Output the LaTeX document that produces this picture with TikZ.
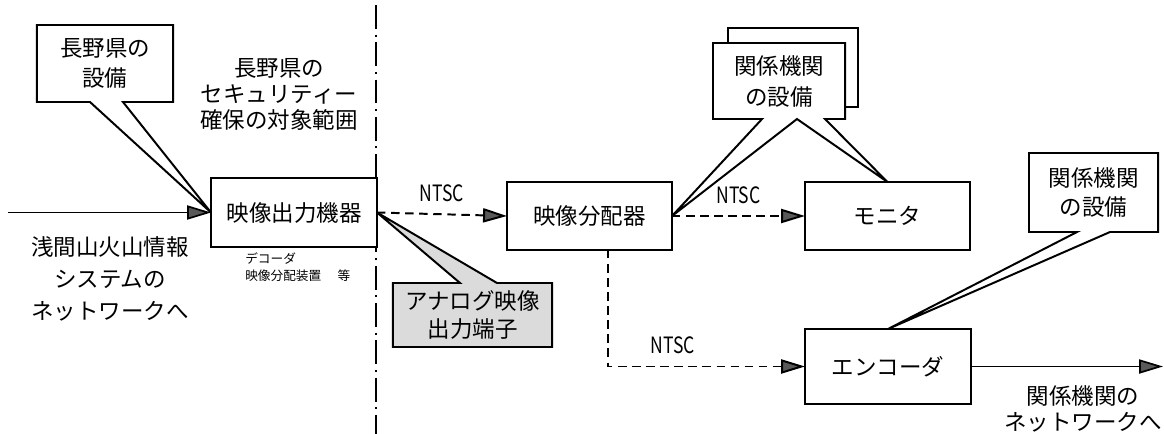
\documentclass[tikz,border=0pt]{standalone}
\usepackage{fontspec}
\setmainfont{Noto Sans CJK JP}
\usetikzlibrary{arrows.meta,calc}
\begin{document}
\begin{tikzpicture}[x=0.025cm,y=-0.025cm,
  box/.style={draw,line width=1.4pt,inner sep=0pt,outer sep=0pt,fill=white,font=\fontsize{16pt}{20pt}\selectfont},
  holder/.style={inner sep=0pt,outer sep=0pt},
  bubline/.style={draw,line width=1.4pt,fill=white,line join=miter},
  lab/.style={inner sep=0pt,align=center,font=\fontsize{16pt}{#1}\selectfont},
  lab/.default=21pt,
  small/.style={inner sep=0pt,align=left,font=\fontsize{9pt}{12.5pt}\selectfont},
  ntsc/.style={inner sep=0pt,font=\fontsize{16pt}{18pt}\selectfont},
  tip/.style={-{Triangle[length=17pt,width=10pt,fill=black!65]}},
  solidarrow/.style={tip,line width=1.2pt},
  dasharrow/.style={tip,line width=1.4pt,dash pattern=on 6pt off 4pt},
]
\useasboundingbox (0,0) rectangle (1164,434);

% boundary line (dash-dot)
\coordinate (btop) at (376,5);
\coordinate (bbot) at (376,434);
\draw[line width=1.5pt,dash pattern=on 17pt off 4pt on 1.5pt off 4pt] (btop) -- (bbot);

% main boxes
\node[box,minimum width=4.15cm,minimum height=1.725cm] (out1) at (294,212.5) {映像出力機器};
\node[box,minimum width=4.125cm,minimum height=1.7cm] (dist) at (589.5,216) {映像分配器};
\node[box,minimum width=4.125cm,minimum height=1.7cm] (mon) at (887.5,216) {モニタ};
\node[box,minimum width=4.15cm,minimum height=1.875cm] (enc) at (888,366.5) {エンコーダ};

% input arrow
\coordinate (in) at (8,212.5);
\draw[solidarrow] (in) -- (out1.west);

% output arrow
\coordinate (outend) at (1163,366.5);
\draw[solidarrow] (enc.east) -- (outend);

% NTSC arrows
\draw[dasharrow] (out1.east) -- (dist.west) node[ntsc,midway,above=8pt] (n1) {\scalebox{0.78}[1]{NTSC}};
\draw[dasharrow] (dist.east) -- (mon.west) node[ntsc,midway,above=8pt] (n2) {\scalebox{0.78}[1]{NTSC}};
\draw[dasharrow] ($(dist.south)+(18.5,0)$) |- (enc.west) node[ntsc,pos=0.665,above=8pt] (n3) {\scalebox{0.78}[1]{NTSC}};

% callout: 長野県の設備
\node[holder,minimum width=3.4cm,minimum height=1.925cm] (nag) at (105,63.5) {};
\draw[bubline] (nag.south west) -- ($(nag.south)+(-15,0)$) -- (out1.west) -- ($(nag.south)+(18,0)$) -- (nag.south east) -- (nag.north east) -- (nag.north west) -- cycle;
\node[lab] (nagtext) at (nag.center) {長野県の\\設備};

% callout: 関係機関の設備 (double)
\node[box,minimum width=3.25cm,minimum height=1.975cm] (kkback) at (793,67.5) {};
\node[holder,minimum width=3.3cm,minimum height=1.9cm] (kk1) at (779,81) {};
\draw[bubline] (kk1.south west) -- ($(kk1.south)+(-17,0)$) -- (dist.east) -- ($(kk1.south)+(18,0)$) -- (mon.north) -- ($(kk1.south)+(46,0)$) -- (kk1.south east) -- (kk1.north east) -- (kk1.north west) -- cycle;
\node[lab=22pt] (kk1text) at (kk1.center) {関係機関\\の設備};

% callout: 関係機関の設備 (encoder)
\node[holder,minimum width=3.225cm,minimum height=1.975cm] (kk2) at (1093.5,192.5) {};
\draw[bubline] (kk2.south west) -- ($(kk2.south)+(-16.5,0)$) -- (enc.north) -- ($(kk2.south)+(16.5,0)$) -- (kk2.south east) -- (kk2.north east) -- (kk2.north west) -- cycle;
\node[lab] (kk2text) at (kk2.center) {関係機関\\の設備};

% callout: アナログ映像出力端子
\node[holder,minimum width=3.975cm,minimum height=1.6cm] (ana) at (472.5,315) {};
\draw[bubline,fill=black!14] (ana.north west) -- ($(ana.north)+(-12.5,0)$) -- (out1.east) -- ($(ana.north)+(24.5,0)$) -- (ana.north east) -- (ana.south east) -- (ana.south west) -- cycle;
\node[lab=20pt] (anatext) at (ana.center) {アナログ映像\\出力端子};

% labels
\node[lab=18.5pt] (scope) at (279,94) {長野県の\\セキュリティー\\確保の対象範囲};
\node[lab=23pt] (asama) at (110,279) {浅間山火山情報\\システムの\\ネットワークへ};
\node[small,anchor=north west] (dec) at (245,252) {デコーダ\\映像分配装置\hspace{1.3em}等};
\node[lab=18pt] (kknet) at (1083,409) {関係機関の\\ネットワークへ};
\end{tikzpicture}
\end{document}
